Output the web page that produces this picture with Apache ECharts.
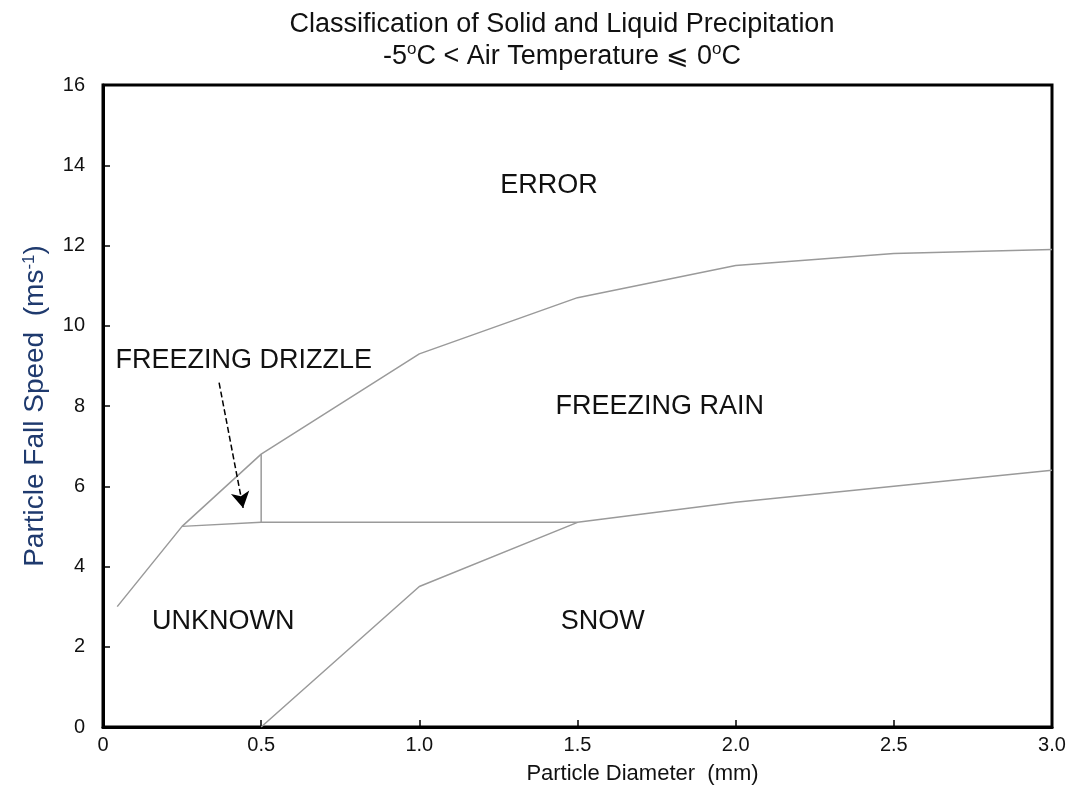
<!DOCTYPE html>
<html><head><meta charset="utf-8">
<script src="https://cdn.jsdelivr.net/npm/echarts@6/dist/echarts.min.js"></script>
<style>html,body{margin:0;padding:0;background:#fff}#c{width:1085px;height:790px}</style>
</head><body><div id="c"></div>
<script>
// Boundary lines [diameter mm, fall speed m/s]
const upperBoundary = [[0.045,3.0],[0.25,5.0],[0.5,6.8],[1.0,9.3],[1.5,10.7],[2.0,11.5],[2.5,11.8],[3.0,11.9]];
const rainSnowBoundary = [[0.25,5.0],[0.5,5.1],[1.5,5.1],[2.0,5.6],[3.0,6.4]];
const snowUnknownBoundary = [[0.5,0.0],[1.0,3.5],[1.5,5.1]];
const drizzleBoundary = [[0.5,5.1],[0.5,6.8]];
const arrowFrom = [0.367,8.58];
const arrowTo = [0.443,5.46];
const regionLabels = [
  {name:'ERROR', value:[1.41,13.5]},
  {name:'FREEZING DRIZZLE', value:[0.445,9.13]},
  {name:'FREEZING RAIN', value:[1.76,7.98]},
  {name:'UNKNOWN', value:[0.38,2.64]},
  {name:'SNOW', value:[1.58,2.64]}
];
const xTicks = ['0','0.5','1.0','1.5','2.0','2.5','3.0'];

const chart = echarts.init(document.getElementById('c'));
const sans = '"Liberation Sans", Arial, sans-serif';
const lineStyle = {color:'#9a9a9a', width:1.5};
function boundary(d){
  return {type:'line', data:d, symbol:'none', lineStyle:lineStyle, silent:true, animation:false};
}
chart.setOption({
  animation:false,
  title:{
    text:'Classification of Solid and Liquid Precipitation\n-5{sup|o}C < Air Temperature ⩽ 0{sup|o}C',
    left:557, textAlign:'center', top:4,
    textStyle:{fontFamily:sans, fontSize:27, fontWeight:'normal', color:'#111', lineHeight:32,
      rich:{sup:{fontFamily:sans, fontSize:17, verticalAlign:'top', color:'#111', lineHeight:32}}}
  },
  grid:{left:103, right:33, top:85, bottom:63, show:true, borderColor:'#000', borderWidth:3, backgroundColor:'#fff'},
  xAxis:{
    type:'value', min:0, max:3, interval:0.5,
    name:'Particle Diameter  (mm)', nameLocation:'middle', nameGap:36,
    nameTextStyle:{fontFamily:sans, fontSize:22, color:'#111', padding:[0,0,0,130]},
    axisLine:{lineStyle:{color:'#000', width:3}},
    axisTick:{inside:true, length:7, lineStyle:{color:'#000', width:1.5}},
    splitLine:{show:false},
    axisLabel:{fontFamily:sans, fontSize:20, color:'#111', margin:8,
      formatter:function(v){ return xTicks[Math.round(v/0.5)]; }}
  },
  yAxis:{
    type:'value', min:0, max:16, interval:2,
    name:'Particle Fall Speed  (ms{sup|-1})', nameLocation:'middle', nameGap:54, nameRotate:90,
    nameTextStyle:{fontFamily:sans, fontSize:28, color:'#1f3a6e',
      rich:{sup:{fontFamily:sans, fontSize:17, verticalAlign:'top', color:'#1f3a6e'}}},
    axisLine:{show:true, lineStyle:{color:'#000', width:3}},
    axisTick:{show:true, inside:true, length:7, lineStyle:{color:'#000', width:1.5}},
    splitLine:{show:false},
    axisLabel:{fontFamily:sans, fontSize:20, color:'#111', margin:18}
  },
  series:[
    boundary(upperBoundary),
    boundary(rainSnowBoundary),
    boundary(snowUnknownBoundary),
    boundary(drizzleBoundary),
    {
      type:'scatter', data:regionLabels, symbolSize:0, silent:true,
      itemStyle:{color:'#111', opacity:1},
      label:{show:true, position:'inside', formatter:'{b}',
        fontFamily:sans, fontSize:27, color:'#111', opacity:1,
        textBorderWidth:0, textBorderColor:'transparent'},
      markLine:{
        silent:true, symbolSize:[14,16],
        lineStyle:{color:'#000', type:[6,3], width:1.5},
        label:{show:false},
        data:[[{coord:arrowFrom, symbol:'none'},{coord:arrowTo, symbol:'arrow'}]]
      }
    }
  ]
});
</script></body></html>
